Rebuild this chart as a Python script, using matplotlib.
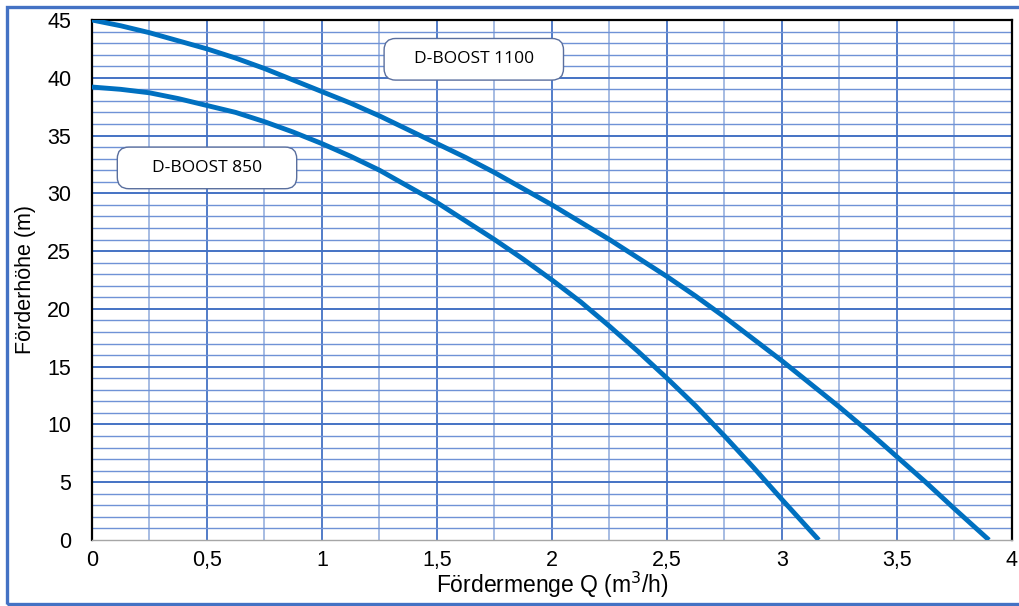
import numpy as np
import matplotlib
matplotlib.use('Agg')
import matplotlib.pyplot as plt
from matplotlib.patches import FancyBboxPatch, Rectangle

# flow rate (m3/h) and head (m)
q_1100 = [0, 0.125, 0.25, 0.375, 0.5, 0.625, 0.75, 0.875, 1.0, 1.125, 1.25, 1.375, 1.5,
          1.625, 1.75, 1.875, 2.0, 2.125, 2.25, 2.375, 2.5, 2.625, 2.75, 2.875, 3.0,
          3.125, 3.25, 3.375, 3.5, 3.625, 3.75, 3.9]
h_1100 = [45.0, 44.5, 43.9, 43.2, 42.5, 41.7, 40.8, 39.8, 38.8, 37.8, 36.7, 35.5, 34.3,
          33.1, 31.8, 30.4, 29.0, 27.5, 26.0, 24.4, 22.8, 21.1, 19.3, 17.4, 15.5,
          13.5, 11.5, 9.4, 7.2, 5.0, 2.7, 0.0]

q_850 = [0, 0.125, 0.25, 0.375, 0.5, 0.625, 0.75, 0.875, 1.0, 1.125, 1.25, 1.375, 1.5,
         1.625, 1.75, 1.875, 2.0, 2.125, 2.25, 2.375, 2.5, 2.625, 2.75, 2.875, 3.0, 3.16]
h_850 = [39.2, 39.0, 38.7, 38.2, 37.6, 37.0, 36.2, 35.3, 34.3, 33.2, 32.0, 30.6, 29.2,
         27.6, 26.0, 24.3, 22.5, 20.6, 18.5, 16.3, 14.0, 11.6, 9.0, 6.3, 3.5, 0.0]

x_ticks = [0, 0.5, 1, 1.5, 2, 2.5, 3, 3.5, 4]
x_labels = ['0', '0,5', '1', '1,5', '2', '2,5', '3', '3,5', '4']
y_ticks = [0, 5, 10, 15, 20, 25, 30, 35, 40, 45]

plt.rcParams['font.family'] = ['Liberation Sans', 'DejaVu Sans']

fig = plt.figure(figsize=(10.2, 6.06), dpi=100)
ax = fig.add_axes([92 / 1020, 1 - 540 / 606, 920 / 1020, 520 / 606])

# grid
for x in np.arange(0.25, 4, 0.25):
    major = abs(x * 2 - round(x * 2)) < 1e-9
    ax.axvline(x, color='#4472C4' if major else '#8EA9DB', lw=1.3 if major else 1.1, zorder=1)
for y in range(1, 45):
    major = y % 5 == 0
    ax.axhline(y, color='#4472C4' if major else '#6F92D6', lw=1.4 if major else 1.0, zorder=1)

ax.plot(q_1100, h_1100, color='#0070C0', lw=3.5, zorder=3, solid_capstyle='butt')
ax.plot(q_850, h_850, color='#0070C0', lw=3.5, zorder=3, solid_capstyle='butt')

ax.set_xlim(0, 4)
ax.set_ylim(0, 45)
ax.set_xticks(x_ticks)
ax.set_xticklabels(x_labels)
ax.set_yticks(y_ticks)
ax.tick_params(length=0, labelsize=15.5)
ax.tick_params(axis='x', pad=7)
ax.tick_params(axis='y', pad=15)

for s in ['left', 'top', 'right']:
    ax.spines[s].set_color('black')
    ax.spines[s].set_linewidth(1.6)
ax.spines['bottom'].set_color('#A6A6A6')
ax.spines['bottom'].set_linewidth(1.0)

ax.set_xlabel('Fördermenge Q (m$^3$/h)', fontsize=16.5, labelpad=-1)
ax.set_ylabel('Förderhöhe (m)', fontsize=15.5, labelpad=8)

# label boxes
asp = (520 / 45) / (920 / 4)
for (x0, y0, w, h, txt) in [(1.27, 39.8, 0.78, 3.6, 'D-BOOST 1100'),
                            (0.11, 30.4, 0.78, 3.6, 'D-BOOST 850')]:
    box = FancyBboxPatch((x0, y0), w, h, boxstyle='round,pad=0,rounding_size=0.05',
                         mutation_aspect=1 / asp, facecolor='white',
                         edgecolor='#5A6F9E', lw=1.0, zorder=4)
    ax.add_patch(box)
    ax.text(x0 + w / 2, y0 + h / 2, txt, ha='center', va='center', fontsize=12.5,
            family=['Open Sans', 'DejaVu Sans'], zorder=5)

# outer frame
fig.add_artist(Rectangle((7 / 1020, 2 / 606), 1.05, 597 / 606, transform=fig.transFigure,
                         fill=False, edgecolor='#4472C4', lw=2.4, clip_on=False))

fig.savefig('out.png', dpi=100)
